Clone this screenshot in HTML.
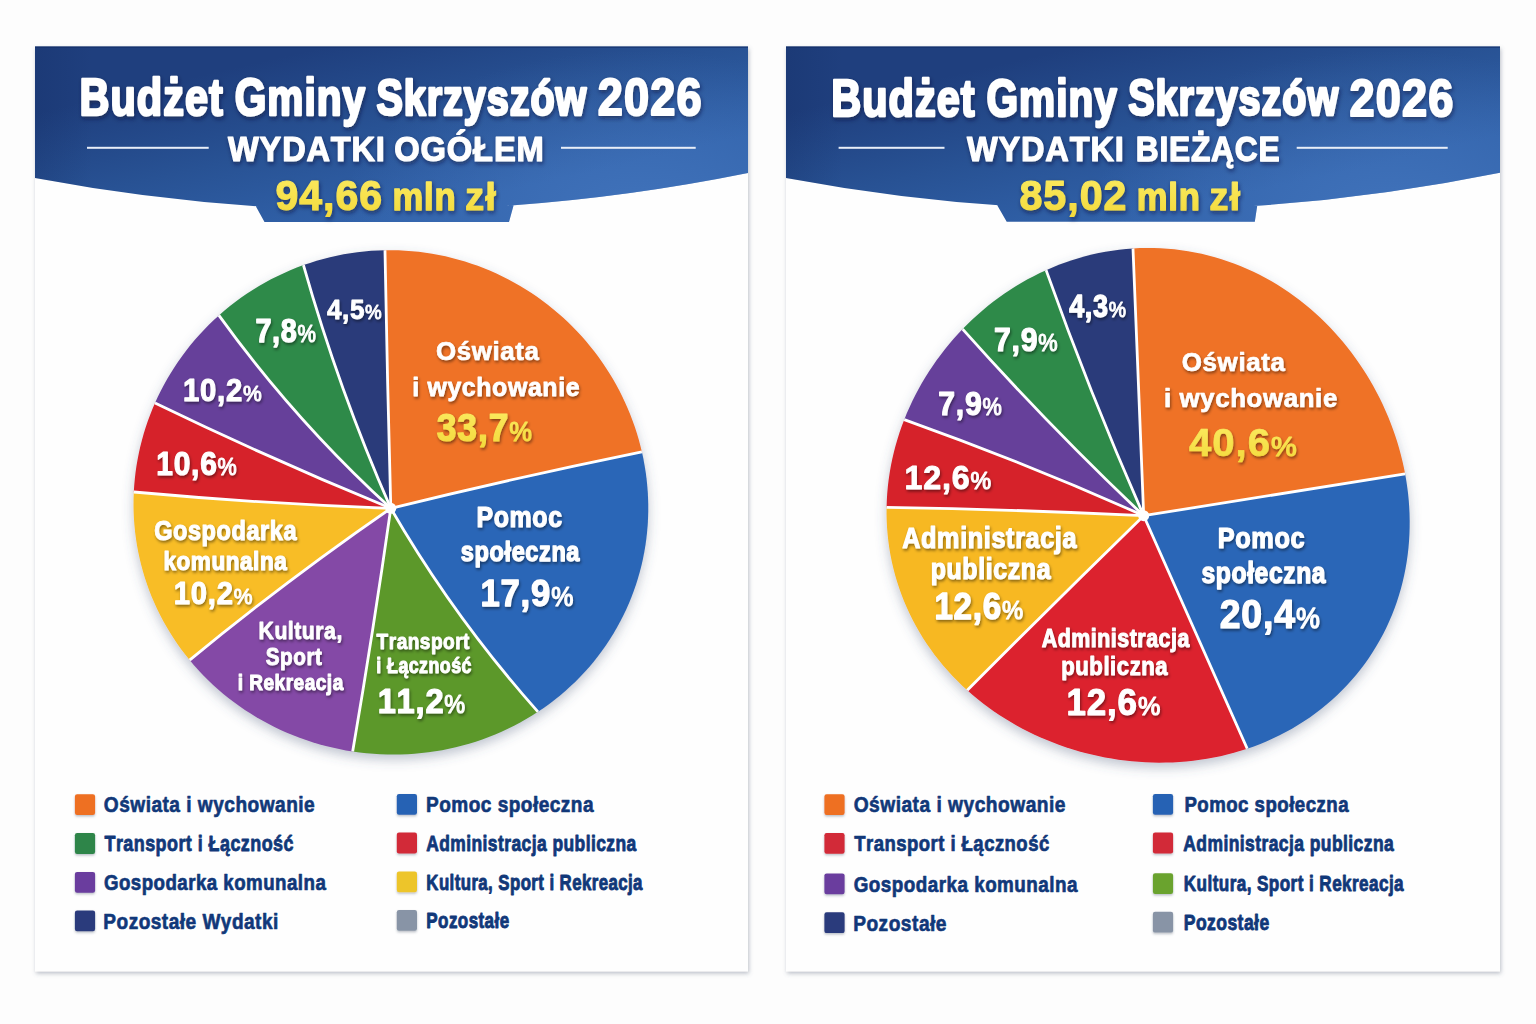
<!DOCTYPE html>
<html><head><meta charset="utf-8"><title>Budżet Gminy Skrzyszów 2026</title>
<style>
html,body{margin:0;padding:0;background:#fdfdfd;width:1536px;height:1024px;overflow:hidden}
svg{display:block}
text{font-family:"Liberation Sans",Arial,sans-serif;font-weight:700;font-kerning:none;white-space:pre}
</style></head><body>
<svg width="1536" height="1024" viewBox="0 0 1536 1024">
<defs>
<linearGradient id="hg0" gradientUnits="userSpaceOnUse" x1="330" y1="46" x2="370" y2="222">
<stop offset="0" stop-color="#1f3f7e"/>
<stop offset="0.5" stop-color="#285294"/>
<stop offset="1" stop-color="#3162aa"/>
</linearGradient>
<linearGradient id="hg1" gradientUnits="userSpaceOnUse" x1="1081" y1="46" x2="1121" y2="222">
<stop offset="0" stop-color="#1f3f7e"/>
<stop offset="0.5" stop-color="#285294"/>
<stop offset="1" stop-color="#3162aa"/>
</linearGradient>
<radialGradient id="hl0" gradientUnits="userSpaceOnUse" cx="640" cy="215" r="300" gradientTransform="translate(640 215) scale(1 0.55) translate(-640 -215)">
<stop offset="0" stop-color="#4d80c8" stop-opacity="0.55"/>
<stop offset="1" stop-color="#4d80c8" stop-opacity="0"/>
</radialGradient>
<radialGradient id="hl1" gradientUnits="userSpaceOnUse" cx="1391" cy="215" r="300" gradientTransform="translate(1391 215) scale(1 0.55) translate(-1391 -215)">
<stop offset="0" stop-color="#4d80c8" stop-opacity="0.55"/>
<stop offset="1" stop-color="#4d80c8" stop-opacity="0"/>
</radialGradient>
<linearGradient id="vg0" gradientUnits="userSpaceOnUse" x1="35" y1="0" x2="748" y2="0">
<stop offset="0" stop-color="#0c2050" stop-opacity="0.16"/>
<stop offset="0.08" stop-color="#0c2050" stop-opacity="0"/>
<stop offset="1" stop-color="#0c2050" stop-opacity="0"/>
</linearGradient>
<linearGradient id="vg1" gradientUnits="userSpaceOnUse" x1="786" y1="0" x2="1500" y2="0">
<stop offset="0" stop-color="#0c2050" stop-opacity="0.16"/>
<stop offset="0.08" stop-color="#0c2050" stop-opacity="0"/>
<stop offset="1" stop-color="#0c2050" stop-opacity="0"/>
</linearGradient>
<linearGradient id="yg" x1="0" y1="0" x2="0" y2="1">
<stop offset="0" stop-color="#FBEB62"/>
<stop offset="1" stop-color="#F3D93A"/>
</linearGradient>
<filter id="card" x="-5%" y="-5%" width="110%" height="110%">
<feDropShadow dx="1" dy="2" stdDeviation="2.2" flood-color="#6a7388" flood-opacity="0.45"/>
</filter>
<filter id="pshadow" x="-10%" y="-10%" width="120%" height="125%">
<feDropShadow dx="0" dy="5" stdDeviation="6" flood-color="#4a5a78" flood-opacity="0.35"/>
</filter>
<filter id="ts" x="-10%" y="-20%" width="120%" height="150%">
<feDropShadow dx="1" dy="2" stdDeviation="1.4" flood-color="#000" flood-opacity="0.45"/>
</filter>
<filter id="hs" x="-10%" y="-20%" width="120%" height="150%">
<feDropShadow dx="1" dy="2.5" stdDeviation="2" flood-color="#0a1838" flood-opacity="0.55"/>
</filter>
<filter id="ls" x="-10%" y="-20%" width="130%" height="150%">
<feDropShadow dx="0" dy="1.5" stdDeviation="1.2" flood-color="#3a4660" flood-opacity="0.35"/>
</filter>
</defs>

<rect x="35" y="46.5" width="713" height="925" fill="#fefefe" filter="url(#card)"/>
<rect x="786" y="46.5" width="714" height="925" fill="#fefefe" filter="url(#card)"/>
<path d="M35.0,46.5 H748.0 V173.0 Q391.5,245.0 35.0,178.0 Z M248.31,192.80 L517.37,191.60 L509.00,221.90 L264.50,221.90 Z" fill="url(#hg0)"/>
<path d="M35.0,46.5 H748.0 V173.0 Q391.5,245.0 35.0,178.0 Z M248.31,192.80 L517.37,191.60 L509.00,221.90 L264.50,221.90 Z" fill="url(#hl0)"/>
<path d="M35.0,46.5 H748.0 V173.0 Q391.5,245.0 35.0,178.0 Z M248.31,192.80 L517.37,191.60 L509.00,221.90 L264.50,221.90 Z" fill="url(#vg0)"/>
<rect x="35.0" y="46.5" width="713.0" height="1.3" fill="#132d66" opacity="0.7"/>
<path d="M786.0,46.5 H1500.0 V172.7 Q1143.0,245.0 786.0,178.0 Z M989.76,192.20 L1259.42,191.20 L1254.80,221.70 L1006.70,221.70 Z" fill="url(#hg1)"/>
<path d="M786.0,46.5 H1500.0 V172.7 Q1143.0,245.0 786.0,178.0 Z M989.76,192.20 L1259.42,191.20 L1254.80,221.70 L1006.70,221.70 Z" fill="url(#hl1)"/>
<path d="M786.0,46.5 H1500.0 V172.7 Q1143.0,245.0 786.0,178.0 Z M989.76,192.20 L1259.42,191.20 L1254.80,221.70 L1006.70,221.70 Z" fill="url(#vg1)"/>
<rect x="786.0" y="46.5" width="714.0" height="1.3" fill="#132d66" opacity="0.7"/>
<text x="79.47" y="115.16" font-size="51.02" textLength="144.42" lengthAdjust="spacingAndGlyphs" fill="#fff" stroke="#fff" stroke-width="2.47" stroke-linejoin="round" letter-spacing="1.28" filter="url(#hs)">Budżet</text>
<text x="234.73" y="115.11" font-size="50.88" textLength="131.41" lengthAdjust="spacingAndGlyphs" fill="#fff" stroke="#fff" stroke-width="2.57" stroke-linejoin="round" letter-spacing="1.27" filter="url(#hs)">Gminy</text>
<text x="376.42" y="115.05" font-size="50.70" textLength="210.93" lengthAdjust="spacingAndGlyphs" fill="#fff" stroke="#fff" stroke-width="2.69" stroke-linejoin="round" letter-spacing="1.27" filter="url(#hs)">Skrzyszów</text>
<text x="597.78" y="115.36" font-size="51.62" textLength="104.84" lengthAdjust="spacingAndGlyphs" fill="#fff" stroke="#fff" stroke-width="2.07" stroke-linejoin="round" letter-spacing="1.29" filter="url(#hs)">2026</text>
<text x="831.27" y="115.56" font-size="51.02" textLength="144.42" lengthAdjust="spacingAndGlyphs" fill="#fff" stroke="#fff" stroke-width="2.47" stroke-linejoin="round" letter-spacing="1.28" filter="url(#hs)">Budżet</text>
<text x="986.53" y="115.51" font-size="50.88" textLength="131.41" lengthAdjust="spacingAndGlyphs" fill="#fff" stroke="#fff" stroke-width="2.57" stroke-linejoin="round" letter-spacing="1.27" filter="url(#hs)">Gminy</text>
<text x="1128.22" y="115.45" font-size="50.70" textLength="210.93" lengthAdjust="spacingAndGlyphs" fill="#fff" stroke="#fff" stroke-width="2.69" stroke-linejoin="round" letter-spacing="1.27" filter="url(#hs)">Skrzyszów</text>
<text x="1349.58" y="115.76" font-size="51.62" textLength="104.84" lengthAdjust="spacingAndGlyphs" fill="#fff" stroke="#fff" stroke-width="2.07" stroke-linejoin="round" letter-spacing="1.29" filter="url(#hs)">2026</text>
<text x="228.06" y="161.22" font-size="35.21" textLength="157.65" lengthAdjust="spacingAndGlyphs" fill="#fff" stroke="#fff" stroke-width="1.17" stroke-linejoin="round" letter-spacing="0.88" filter="url(#hs)">WYDATKI</text>
<text x="394.34" y="161.23" font-size="35.23" textLength="150.29" lengthAdjust="spacingAndGlyphs" fill="#fff" stroke="#fff" stroke-width="1.15" stroke-linejoin="round" letter-spacing="0.88" filter="url(#hs)">OGÓŁEM</text>
<text x="966.96" y="161.22" font-size="35.21" textLength="157.65" lengthAdjust="spacingAndGlyphs" fill="#fff" stroke="#fff" stroke-width="1.17" stroke-linejoin="round" letter-spacing="0.88" filter="url(#hs)">WYDATKI</text>
<text x="1135.72" y="161.17" font-size="35.07" textLength="144.68" lengthAdjust="spacingAndGlyphs" fill="#fff" stroke="#fff" stroke-width="1.26" stroke-linejoin="round" letter-spacing="0.88" filter="url(#hs)">BIEŻĄCE</text>
<text x="275.43" y="209.95" font-size="42.00" textLength="107.62" lengthAdjust="spacingAndGlyphs" fill="url(#yg)" stroke="url(#yg)" stroke-width="1.10" stroke-linejoin="round" letter-spacing="1.05" filter="url(#hs)">94,66</text>
<text x="392.39" y="209.83" font-size="38.03" textLength="64.16" lengthAdjust="spacingAndGlyphs" fill="url(#yg)" stroke="url(#yg)" stroke-width="1.33" stroke-linejoin="round" letter-spacing="0.95" filter="url(#hs)">mln</text>
<text x="464.91" y="210.05" font-size="38.67" textLength="31.91" lengthAdjust="spacingAndGlyphs" fill="url(#yg)" stroke="url(#yg)" stroke-width="0.90" stroke-linejoin="round" letter-spacing="0.97" filter="url(#hs)">zł</text>
<text x="1019.44" y="210.16" font-size="42.03" textLength="108.09" lengthAdjust="spacingAndGlyphs" fill="url(#yg)" stroke="url(#yg)" stroke-width="1.08" stroke-linejoin="round" letter-spacing="1.05" filter="url(#hs)">85,02</text>
<text x="1136.69" y="210.03" font-size="38.03" textLength="64.16" lengthAdjust="spacingAndGlyphs" fill="url(#yg)" stroke="url(#yg)" stroke-width="1.33" stroke-linejoin="round" letter-spacing="0.95" filter="url(#hs)">mln</text>
<text x="1209.21" y="210.25" font-size="38.67" textLength="31.91" lengthAdjust="spacingAndGlyphs" fill="url(#yg)" stroke="url(#yg)" stroke-width="0.90" stroke-linejoin="round" letter-spacing="0.97" filter="url(#hs)">zł</text>
<rect x="87.0" y="146.8" width="121.7" height="2" fill="#e8eef8"/>
<rect x="561.0" y="146.8" width="134.7" height="2" fill="#e8eef8"/>
<rect x="838.6" y="146.8" width="105.9" height="2" fill="#e8eef8"/>
<rect x="1296.7" y="146.8" width="151.0" height="2" fill="#e8eef8"/>
<g filter="url(#pshadow)"><path d="M390.80,508.30 Q387.24,379.27 384.98,250.21 L391.76,250.18 L398.53,250.33 L405.30,250.66 L412.05,251.16 L418.79,251.85 L425.50,252.71 L432.19,253.75 L438.84,254.97 L445.45,256.36 L452.03,257.92 L458.55,259.66 L465.02,261.56 L471.44,263.63 L477.79,265.87 L484.08,268.27 L490.30,270.83 L496.44,273.56 L502.51,276.43 L508.49,279.46 L514.39,282.64 L520.19,285.97 L525.91,289.44 L531.53,293.06 L537.05,296.81 L542.46,300.70 L547.77,304.73 L552.97,308.88 L558.05,313.16 L563.03,317.57 L567.88,322.09 L572.61,326.73 L577.22,331.48 L581.71,336.35 L586.07,341.32 L590.29,346.40 L594.39,351.58 L598.35,356.85 L602.18,362.22 L605.86,367.68 L609.41,373.23 L612.81,378.86 L616.07,384.58 L619.18,390.37 L622.15,396.24 L624.96,402.17 L627.63,408.18 L630.14,414.25 L632.49,420.38 L634.69,426.57 L636.73,432.81 L638.60,439.10 L640.32,445.44 L641.87,451.83 Q515.78,477.60 390.80,508.30 Z" fill="#EF7226"/><path d="M390.80,508.30 Q515.78,477.60 641.87,451.83 L643.28,458.35 L644.52,464.91 L645.58,471.50 L646.47,478.12 L647.18,484.76 L647.72,491.43 L648.07,498.11 L648.25,504.80 L648.24,511.49 L648.06,518.19 L647.69,524.89 L647.14,531.58 L646.40,538.25 L645.49,544.91 L644.38,551.55 L643.10,558.16 L641.63,564.73 L639.97,571.27 L638.13,577.77 L636.11,584.22 L633.91,590.61 L631.53,596.95 L628.97,603.23 L626.23,609.43 L623.31,615.56 L620.22,621.62 L616.96,627.59 L613.52,633.47 L609.92,639.26 L606.16,644.95 L602.23,650.53 L598.14,656.01 L593.90,661.38 L589.50,666.63 L584.95,671.75 L580.26,676.76 L575.43,681.63 L570.46,686.37 L565.35,690.97 L560.12,695.44 L554.76,699.76 L549.28,703.93 L543.69,707.95 L537.98,711.82 Q454.01,617.57 390.80,508.30 Z" fill="#2A66B7"/><path d="M390.80,508.30 Q454.01,617.57 537.98,711.82 L532.16,715.55 L526.23,719.11 L520.21,722.51 L514.09,725.75 L507.89,728.83 L501.60,731.73 L495.24,734.47 L488.81,737.04 L482.31,739.44 L475.75,741.66 L469.13,743.71 L462.46,745.58 L455.74,747.28 L448.98,748.80 L442.18,750.15 L435.35,751.32 L428.50,752.31 L421.62,753.12 L414.72,753.76 L407.82,754.21 L400.90,754.49 L393.98,754.60 L387.07,754.52 L380.16,754.27 L373.26,753.84 L366.38,753.24 L359.51,752.46 L352.67,751.51 Q373.51,630.18 390.80,508.30 Z" fill="#5B982B"/><path d="M390.80,508.30 Q373.51,630.18 352.67,751.51 L345.89,750.38 L339.14,749.09 L332.42,747.62 L325.75,745.99 L319.13,744.19 L312.55,742.22 L306.04,740.08 L299.58,737.78 L293.19,735.31 L286.86,732.69 L280.61,729.90 L274.44,726.95 L268.35,723.85 L262.34,720.60 L256.43,717.19 L250.61,713.62 L244.89,709.91 L239.27,706.06 L233.76,702.06 L228.36,697.92 L223.08,693.64 L217.91,689.23 L212.87,684.68 L207.95,680.00 L203.17,675.20 L198.52,670.27 L194.00,665.22 L189.63,660.06 Q287.01,579.93 390.80,508.30 Z" fill="#8449A6"/><path d="M390.80,508.30 Q287.01,579.93 189.63,660.06 L185.40,654.78 L181.31,649.39 L177.38,643.90 L173.60,638.30 L169.97,632.61 L166.51,626.82 L163.21,620.95 L160.07,614.99 L157.10,608.95 L154.30,602.84 L151.67,596.66 L149.21,590.41 L146.93,584.10 L144.82,577.73 L142.89,571.31 L141.13,564.84 L139.56,558.34 L138.17,551.79 L136.96,545.21 L135.93,538.61 L135.08,531.98 L134.41,525.33 L133.92,518.67 L133.62,512.00 L133.50,505.33 L133.55,498.66 L133.79,491.99 Q262.07,503.71 390.80,508.30 Z" fill="#F8BD26"/><path d="M390.80,508.30 Q262.07,503.71 133.79,491.99 L134.20,485.44 L134.79,478.90 L135.55,472.37 L136.48,465.87 L137.58,459.40 L138.85,452.95 L140.30,446.55 L141.91,440.18 L143.68,433.85 L145.62,427.57 L147.73,421.34 L150.00,415.17 L152.42,409.06 L155.01,403.00 Q271.27,459.31 390.80,508.30 Z" fill="#D6202C"/><path d="M390.80,508.30 Q271.27,459.31 155.01,403.00 L157.84,396.83 L160.84,390.73 L164.00,384.71 L167.33,378.77 L170.81,372.92 L174.45,367.16 L178.24,361.49 L182.19,355.92 L186.28,350.45 L190.52,345.09 L194.91,339.84 L199.44,334.71 L204.11,329.69 L208.91,324.79 L213.85,320.02 L218.92,315.38 Q294.89,420.72 390.80,508.30 Z" fill="#663F9A"/><path d="M390.80,508.30 Q294.89,420.72 218.92,315.38 L224.23,310.77 L229.66,306.31 L235.22,301.99 L240.90,297.82 L246.70,293.81 L252.61,289.95 L258.63,286.25 L264.76,282.72 L270.99,279.35 L277.31,276.15 L283.72,273.13 L290.22,270.28 L296.81,267.61 L303.46,265.12 Q338.76,389.72 390.80,508.30 Z" fill="#2F8A4A"/><path d="M390.80,508.30 Q338.76,389.72 303.46,265.12 L310.01,262.88 L316.62,260.81 L323.29,258.92 L330.00,257.22 L336.77,255.69 L343.58,254.35 L350.42,253.19 L357.29,252.22 L364.19,251.44 L371.11,250.84 L378.04,250.43 L384.98,250.21 Q387.24,379.27 390.80,508.30 Z" fill="#2C3B7A"/></g>
<clipPath id="pc34"><path d="M648.20,502.00 L648.27,508.58 L648.16,515.16 L647.89,521.75 L647.43,528.32 L646.80,534.89 L645.99,541.44 L645.00,547.98 L643.83,554.49 L642.49,560.97 L640.97,567.42 L639.27,573.83 L637.40,580.20 L635.35,586.52 L633.12,592.78 L630.72,598.99 L628.15,605.14 L625.40,611.21 L622.49,617.22 L619.41,623.15 L616.16,628.99 L612.74,634.75 L609.17,640.42 L605.44,645.99 L601.55,651.46 L597.51,656.83 L593.31,662.09 L588.97,667.23 L584.49,672.26 L579.87,677.16 L575.10,681.95 L570.21,686.60 L565.19,691.12 L560.04,695.50 L554.78,699.74 L549.39,703.85 L543.90,707.81 L538.30,711.62 L532.59,715.28 L526.79,718.79 L520.89,722.14 L514.90,725.34 L508.83,728.37 L502.68,731.25 L496.45,733.97 L490.16,736.52 L483.79,738.91 L477.37,741.13 L470.89,743.18 L464.36,745.07 L457.79,746.78 L451.17,748.33 L444.52,749.71 L437.83,750.91 L431.11,751.95 L424.38,752.82 L417.62,753.51 L410.85,754.03 L404.07,754.39 L397.29,754.57 L390.50,754.58 L383.72,754.42 L376.95,754.09 L370.19,753.59 L363.44,752.93 L356.72,752.09 L350.03,751.09 L343.36,749.92 L336.73,748.59 L330.14,747.09 L323.59,745.42 L317.08,743.59 L310.63,741.61 L304.23,739.46 L297.90,737.15 L291.62,734.68 L285.42,732.06 L279.28,729.28 L273.23,726.35 L267.25,723.27 L261.36,720.04 L255.55,716.66 L249.84,713.13 L244.22,709.47 L238.70,705.66 L233.29,701.71 L227.99,697.62 L222.79,693.40 L217.72,689.05 L212.76,684.57 L207.92,679.97 L203.21,675.24 L198.63,670.40 L194.19,665.44 L189.88,660.36 L185.71,655.18 L181.68,649.89 L177.80,644.50 L174.06,639.01 L170.48,633.43 L167.05,627.75 L163.78,621.99 L160.66,616.15 L157.71,610.23 L154.92,604.24 L152.30,598.18 L149.84,592.05 L147.55,585.86 L145.42,579.62 L143.47,573.33 L141.69,566.98 L140.09,560.60 L138.66,554.18 L137.40,547.73 L136.31,541.24 L135.41,534.74 L134.67,528.21 L134.12,521.67 L133.74,515.12 L133.53,508.56 L133.50,502.00 L133.65,495.44 L133.97,488.89 L134.46,482.36 L135.12,475.84 L135.96,469.34 L136.97,462.86 L138.15,456.41 L139.50,449.99 L141.02,443.62 L142.70,437.28 L144.55,430.98 L146.56,424.74 L148.73,418.55 L151.07,412.41 L153.56,406.33 L156.21,400.32 L159.02,394.38 L161.98,388.50 L165.10,382.71 L168.36,376.99 L171.78,371.35 L175.34,365.80 L179.04,360.34 L182.88,354.97 L186.87,349.69 L190.99,344.52 L195.25,339.45 L199.64,334.49 L204.16,329.63 L208.81,324.90 L213.58,320.27 L218.48,315.77 L223.49,311.39 L228.62,307.14 L233.86,303.02 L239.22,299.03 L244.68,295.18 L250.24,291.47 L255.90,287.90 L261.66,284.48 L267.51,281.20 L273.45,278.08 L279.48,275.11 L285.58,272.29 L291.76,269.64 L298.01,267.15 L304.33,264.81 L310.72,262.65 L317.16,260.65 L323.65,258.83 L330.20,257.17 L336.79,255.69 L343.42,254.38 L350.08,253.24 L356.77,252.29 L363.49,251.51 L370.23,250.91 L376.98,250.48 L383.74,250.24 L390.50,250.17 L397.26,250.29 L404.02,250.58 L410.76,251.05 L417.49,251.70 L424.19,252.53 L430.87,253.54 L437.52,254.71 L444.13,256.07 L450.70,257.59 L457.22,259.29 L463.69,261.16 L470.10,263.19 L476.46,265.39 L482.75,267.75 L488.97,270.27 L495.12,272.95 L501.19,275.79 L507.18,278.78 L513.09,281.92 L518.90,285.21 L524.63,288.65 L530.26,292.22 L535.79,295.94 L541.22,299.79 L546.54,303.78 L551.75,307.89 L556.86,312.14 L561.85,316.50 L566.72,320.99 L571.48,325.59 L576.11,330.31 L580.62,335.14 L585.00,340.08 L589.25,345.12 L593.37,350.26 L597.36,355.50 L601.21,360.84 L604.93,366.27 L608.50,371.78 L611.94,377.38 L615.23,383.06 L618.37,388.82 L621.37,394.66 L624.22,400.57 L626.92,406.54 L629.47,412.58 L631.86,418.69 L634.10,424.85 L636.17,431.06 L638.09,437.33 L639.85,443.65 L641.45,450.01 L642.88,456.40 L644.15,462.84 L645.25,469.31 L646.18,475.81 L646.94,482.33 L647.53,488.87 L647.95,495.43 Z"/></clipPath>
<g clip-path="url(#pc34)" stroke="#fff" stroke-width="2.8" stroke-linecap="round" fill="none"><path d="M384.95,248.21 L384.98,250.21 Q387.24,379.27 390.80,508.30"/><path d="M643.83,451.42 L641.87,451.83 Q515.78,477.60 390.80,508.30"/><path d="M539.31,713.32 L537.98,711.82 Q454.01,617.57 390.80,508.30"/><path d="M352.34,753.48 L352.67,751.51 Q373.51,630.18 390.80,508.30"/><path d="M188.08,661.33 L189.63,660.06 Q287.01,579.93 390.80,508.30"/><path d="M131.80,491.81 L133.79,491.99 Q262.07,503.71 390.80,508.30"/><path d="M153.21,402.13 L155.01,403.00 Q271.27,459.31 390.80,508.30"/><path d="M217.75,313.75 L218.92,315.38 Q294.89,420.72 390.80,508.30"/><path d="M302.92,263.20 L303.46,265.12 Q338.76,389.72 390.80,508.30"/></g>
<circle cx="390.8" cy="508.3" r="5.5" fill="#fff"/>
<g filter="url(#pshadow)"><path d="M1143.70,515.70 Q1138.66,382.05 1132.99,248.43 L1139.89,248.09 L1146.80,247.95 L1153.71,248.00 L1160.62,248.25 L1167.51,248.69 L1174.39,249.33 L1181.25,250.17 L1188.08,251.20 L1194.87,252.43 L1201.63,253.84 L1208.33,255.45 L1214.98,257.25 L1221.58,259.23 L1228.11,261.39 L1234.57,263.73 L1240.96,266.25 L1247.26,268.94 L1253.49,271.80 L1259.63,274.82 L1265.67,278.01 L1271.62,281.36 L1277.47,284.85 L1283.22,288.50 L1288.86,292.29 L1294.39,296.22 L1299.82,300.29 L1305.12,304.49 L1310.32,308.82 L1315.39,313.27 L1320.35,317.83 L1325.18,322.52 L1329.90,327.31 L1334.49,332.21 L1338.95,337.21 L1343.29,342.32 L1347.51,347.52 L1351.60,352.81 L1355.56,358.19 L1359.39,363.66 L1363.09,369.21 L1366.66,374.84 L1370.10,380.54 L1373.40,386.33 L1376.58,392.18 L1379.62,398.11 L1382.53,404.10 L1385.30,410.16 L1387.93,416.28 L1390.42,422.47 L1392.77,428.71 L1394.98,435.01 L1397.05,441.36 L1398.96,447.77 L1400.73,454.22 L1402.35,460.72 L1403.82,467.27 L1405.12,473.86 Q1274.41,494.78 1143.70,515.70 Z" fill="#EF7226"/><path d="M1143.70,515.70 Q1274.41,494.78 1405.12,473.86 L1406.27,480.49 L1407.26,487.16 L1408.09,493.86 L1408.74,500.59 L1409.23,507.34 L1409.54,514.11 L1409.68,520.91 L1409.64,527.71 L1409.42,534.52 L1409.02,541.34 L1408.43,548.15 L1407.65,554.96 L1406.69,561.76 L1405.53,568.53 L1404.18,575.28 L1402.63,582.00 L1400.89,588.69 L1398.95,595.33 L1396.82,601.92 L1394.49,608.46 L1391.96,614.93 L1389.24,621.33 L1386.32,627.66 L1383.21,633.90 L1379.91,640.05 L1376.42,646.11 L1372.74,652.06 L1368.88,657.91 L1364.84,663.63 L1360.63,669.24 L1356.24,674.72 L1351.68,680.06 L1346.96,685.27 L1342.08,690.33 L1337.04,695.24 L1331.86,700.00 L1326.54,704.60 L1321.08,709.04 L1315.49,713.31 L1309.78,717.42 L1303.95,721.35 L1298.00,725.11 L1291.96,728.69 L1285.81,732.09 L1279.58,735.32 L1273.26,738.36 L1266.86,741.22 L1260.39,743.90 L1253.86,746.40 L1247.26,748.71 Q1195.65,632.13 1143.70,515.70 Z" fill="#2A66B7"/><path d="M1143.70,515.70 Q1195.65,632.13 1247.26,748.71 L1240.64,750.84 L1233.97,752.79 L1227.26,754.55 L1220.51,756.14 L1213.74,757.55 L1206.94,758.79 L1200.12,759.85 L1193.29,760.74 L1186.44,761.46 L1179.59,762.01 L1172.74,762.39 L1165.89,762.61 L1159.05,762.66 L1152.22,762.56 L1145.40,762.29 L1138.60,761.86 L1131.82,761.28 L1125.06,760.55 L1118.33,759.66 L1111.63,758.62 L1104.96,757.42 L1098.33,756.08 L1091.73,754.59 L1085.17,752.96 L1078.66,751.17 L1072.19,749.25 L1065.77,747.17 L1059.41,744.96 L1053.09,742.60 L1046.84,740.09 L1040.64,737.45 L1034.51,734.66 L1028.45,731.73 L1022.46,728.66 L1016.54,725.45 L1010.70,722.10 L1004.94,718.61 L999.27,714.97 L993.68,711.21 L988.19,707.30 L982.80,703.26 L977.51,699.08 L972.33,694.77 L967.26,690.32 Q1054.82,602.35 1143.70,515.70 Z" fill="#DC202D"/><path d="M1143.70,515.70 Q1054.82,602.35 967.26,690.32 L962.21,685.65 L957.28,680.85 L952.48,675.92 L947.82,670.85 L943.30,665.66 L938.92,660.35 L934.69,654.91 L930.61,649.36 L926.70,643.70 L922.94,637.92 L919.36,632.04 L915.94,626.07 L912.70,619.99 L909.63,613.83 L906.75,607.57 L904.05,601.24 L901.53,594.84 L899.21,588.36 L897.08,581.82 L895.14,575.23 L893.39,568.58 L891.85,561.88 L890.49,555.15 L889.34,548.38 L888.38,541.59 L887.63,534.77 L887.07,527.94 L886.70,521.09 L886.53,514.25 L886.56,507.40 Q1015.20,509.39 1143.70,515.70 Z" fill="#F7B822"/><path d="M1143.70,515.70 Q1015.20,509.39 886.56,507.40 L886.79,500.46 L887.21,493.53 L887.83,486.62 L888.64,479.74 L889.64,472.88 L890.83,466.06 L892.21,459.27 L893.78,452.53 L895.52,445.84 L897.44,439.20 L899.54,432.61 L901.81,426.09 L904.25,419.63 Q1025.81,463.08 1143.70,515.70 Z" fill="#D6202C"/><path d="M1143.70,515.70 Q1025.81,463.08 904.25,419.63 L906.80,413.36 L909.52,407.15 L912.38,401.02 L915.40,394.97 L918.57,388.99 L921.88,383.09 L925.34,377.27 L928.95,371.54 L932.69,365.89 L936.57,360.34 L940.59,354.88 L944.74,349.52 L949.02,344.26 L953.43,339.09 L957.97,334.04 L962.63,329.09 Q1049.20,426.25 1143.70,515.70 Z" fill="#663F9A"/><path d="M1143.70,515.70 Q1049.20,426.25 962.63,329.09 L967.42,324.26 L972.32,319.54 L977.35,314.94 L982.49,310.46 L987.74,306.10 L993.11,301.87 L998.59,297.77 L1004.18,293.81 L1009.88,289.98 L1015.67,286.30 L1021.57,282.76 L1027.56,279.37 L1033.65,276.14 L1039.83,273.06 L1046.09,270.14 Q1090.40,394.71 1143.70,515.70 Z" fill="#2F8A4A"/><path d="M1143.70,515.70 Q1090.40,394.71 1046.09,270.14 L1052.41,267.40 L1058.81,264.83 L1065.28,262.43 L1071.82,260.20 L1078.43,258.14 L1085.09,256.27 L1091.82,254.58 L1098.59,253.08 L1105.40,251.76 L1112.26,250.64 L1119.14,249.71 L1126.06,248.97 L1132.99,248.43 Q1138.66,382.05 1143.70,515.70 Z" fill="#2C3B7A"/></g>
<clipPath id="pc38"><path d="M1409.19,506.60 L1409.52,513.35 L1409.68,520.11 L1409.66,526.89 L1409.46,533.68 L1409.08,540.47 L1408.52,547.26 L1407.77,554.04 L1406.83,560.81 L1405.71,567.57 L1404.39,574.30 L1402.88,581.00 L1401.17,587.66 L1399.27,594.29 L1397.18,600.86 L1394.89,607.38 L1392.40,613.84 L1389.72,620.23 L1386.85,626.55 L1383.79,632.78 L1380.53,638.93 L1377.09,644.98 L1373.46,650.93 L1369.65,656.78 L1365.66,662.51 L1361.49,668.12 L1357.15,673.60 L1352.65,678.96 L1347.98,684.17 L1343.15,689.24 L1338.17,694.17 L1333.04,698.95 L1327.76,703.57 L1322.36,708.03 L1316.82,712.32 L1311.15,716.45 L1305.37,720.41 L1299.48,724.20 L1293.48,727.81 L1287.38,731.25 L1281.19,734.50 L1274.92,737.58 L1268.56,740.48 L1262.13,743.20 L1255.64,745.74 L1249.09,748.09 L1242.48,750.27 L1235.82,752.26 L1229.12,754.08 L1222.39,755.72 L1215.62,757.18 L1208.83,758.46 L1202.02,759.57 L1195.19,760.51 L1188.35,761.28 L1181.50,761.87 L1174.65,762.30 L1167.80,762.56 L1160.96,762.66 L1154.12,762.60 L1147.30,762.38 L1140.49,762.00 L1133.71,761.46 L1126.95,760.77 L1120.21,759.92 L1113.50,758.92 L1106.82,757.77 L1100.18,756.47 L1093.57,755.02 L1087.00,753.43 L1080.48,751.69 L1074.00,749.80 L1067.56,747.77 L1061.18,745.59 L1054.85,743.27 L1048.58,740.81 L1042.37,738.20 L1036.22,735.46 L1030.14,732.57 L1024.13,729.53 L1018.19,726.36 L1012.33,723.05 L1006.55,719.60 L1000.85,716.01 L995.24,712.28 L989.73,708.41 L984.31,704.41 L978.99,700.27 L973.78,695.99 L968.67,691.58 L963.69,687.04 L958.82,682.38 L954.07,677.58 L949.45,672.66 L944.97,667.62 L940.62,662.45 L936.42,657.17 L932.36,651.78 L928.45,646.27 L924.69,640.66 L921.10,634.94 L917.66,629.13 L914.39,623.22 L911.29,617.23 L908.37,611.14 L905.61,604.98 L903.04,598.74 L900.65,592.44 L898.44,586.06 L896.41,579.63 L894.57,573.15 L892.92,566.62 L891.46,560.04 L890.18,553.43 L889.10,546.79 L888.20,540.12 L887.50,533.43 L886.99,526.73 L886.66,520.02 L886.53,513.31 L886.58,506.60 L886.81,499.90 L887.23,493.21 L887.84,486.53 L888.62,479.88 L889.58,473.26 L890.72,466.66 L892.03,460.11 L893.52,453.59 L895.17,447.11 L896.99,440.69 L898.98,434.31 L901.13,427.99 L903.43,421.73 L905.90,415.53 L908.51,409.40 L911.28,403.33 L914.20,397.33 L917.26,391.41 L920.47,385.57 L923.82,379.80 L927.30,374.11 L930.93,368.51 L934.69,363.00 L938.58,357.57 L942.60,352.24 L946.75,347.01 L951.03,341.87 L955.44,336.83 L959.96,331.89 L964.61,327.06 L969.38,322.34 L974.26,317.74 L979.26,313.24 L984.37,308.87 L989.59,304.62 L994.92,300.49 L1000.36,296.49 L1005.90,292.63 L1011.55,288.90 L1017.29,285.31 L1023.13,281.86 L1029.06,278.56 L1035.09,275.40 L1041.20,272.40 L1047.39,269.56 L1053.66,266.88 L1060.01,264.37 L1066.43,262.02 L1072.92,259.84 L1079.47,257.84 L1086.08,256.01 L1092.74,254.36 L1099.45,252.90 L1106.21,251.62 L1113.00,250.53 L1119.82,249.63 L1126.66,248.92 L1133.53,248.40 L1140.41,248.07 L1147.30,247.94 L1154.19,248.01 L1161.08,248.27 L1167.95,248.73 L1174.81,249.38 L1181.65,250.22 L1188.45,251.26 L1195.22,252.50 L1201.95,253.92 L1208.64,255.53 L1215.27,257.33 L1221.84,259.31 L1228.35,261.47 L1234.79,263.81 L1241.15,266.33 L1247.44,269.02 L1253.64,271.87 L1259.76,274.89 L1265.79,278.07 L1271.72,281.41 L1277.55,284.90 L1283.28,288.54 L1288.90,292.32 L1294.42,296.24 L1299.82,300.30 L1305.11,304.48 L1310.29,308.79 L1315.35,313.23 L1320.30,317.78 L1325.12,322.45 L1329.82,327.23 L1334.40,332.11 L1338.85,337.10 L1343.19,342.19 L1347.39,347.37 L1351.47,352.64 L1355.42,358.00 L1359.24,363.45 L1362.94,368.98 L1366.51,374.59 L1369.94,380.28 L1373.25,386.04 L1376.42,391.87 L1379.46,397.78 L1382.36,403.75 L1385.13,409.79 L1387.76,415.89 L1390.26,422.05 L1392.61,428.27 L1394.83,434.55 L1396.89,440.88 L1398.82,447.26 L1400.59,453.69 L1402.22,460.17 L1403.69,466.69 L1405.01,473.26 L1406.17,479.86 L1407.17,486.50 L1408.01,493.17 L1408.68,499.87 Z"/></clipPath>
<g clip-path="url(#pc38)" stroke="#fff" stroke-width="2.8" stroke-linecap="round" fill="none"><path d="M1132.91,246.43 L1132.99,248.43 Q1138.66,382.05 1143.70,515.70"/><path d="M1407.10,473.54 L1405.12,473.86 Q1274.41,494.78 1143.70,515.70"/><path d="M1248.07,750.54 L1247.26,748.71 Q1195.65,632.13 1143.70,515.70"/><path d="M965.85,691.74 L967.26,690.32 Q1054.82,602.35 1143.70,515.70"/><path d="M884.56,507.37 L886.56,507.40 Q1015.20,509.39 1143.70,515.70"/><path d="M902.37,418.95 L904.25,419.63 Q1025.81,463.08 1143.70,515.70"/><path d="M961.30,327.60 L962.63,329.09 Q1049.20,426.25 1143.70,515.70"/><path d="M1045.42,268.26 L1046.09,270.14 Q1090.40,394.71 1143.70,515.70"/></g>
<circle cx="1143.7" cy="515.7" r="5.5" fill="#fff"/>
<text x="435.88" y="359.97" font-size="26.35" textLength="103.67" lengthAdjust="spacingAndGlyphs" fill="#fff" stroke="#fff" stroke-width="0.67" stroke-linejoin="round" letter-spacing="0.66" filter="url(#ts)">Oświata</text>
<text x="412.36" y="396.21" font-size="26.18" textLength="167.82" lengthAdjust="spacingAndGlyphs" fill="#fff" stroke="#fff" stroke-width="0.78" stroke-linejoin="round" letter-spacing="0.65" filter="url(#ts)">i wychowanie</text>
<text x="436.70" y="441.09" font-size="38.04" textLength="96.14" lengthAdjust="spacingAndGlyphs" fill="url(#yg)" stroke="url(#yg)" stroke-width="1.22" stroke-linejoin="round" letter-spacing="0.95" filter="url(#ts)">33,7<tspan font-size="27.39" font-weight="400" stroke-width="1.23">%</tspan></text>
<text x="476.43" y="526.91" font-size="28.79" textLength="86.23" lengthAdjust="spacingAndGlyphs" fill="#fff" stroke="#fff" stroke-width="1.19" stroke-linejoin="round" letter-spacing="0.72" filter="url(#ts)">Pomoc</text>
<text x="460.85" y="561.03" font-size="28.56" textLength="119.22" lengthAdjust="spacingAndGlyphs" fill="#fff" stroke="#fff" stroke-width="1.34" stroke-linejoin="round" letter-spacing="0.71" filter="url(#ts)">społeczna</text>
<text x="480.38" y="606.15" font-size="37.78" textLength="93.79" lengthAdjust="spacingAndGlyphs" fill="#fff" stroke="#fff" stroke-width="1.30" stroke-linejoin="round" letter-spacing="0.94" filter="url(#ts)">17,9<tspan font-size="27.20" font-weight="400" stroke-width="1.22">%</tspan></text>
<text x="376.62" y="648.77" font-size="21.71" textLength="93.26" lengthAdjust="spacingAndGlyphs" fill="#fff" stroke="#fff" stroke-width="0.86" stroke-linejoin="round" letter-spacing="0.54" filter="url(#ts)">Transport</text>
<text x="376.26" y="673.30" font-size="21.50" textLength="95.61" lengthAdjust="spacingAndGlyphs" fill="#fff" stroke="#fff" stroke-width="0.99" stroke-linejoin="round" letter-spacing="0.54" filter="url(#ts)">i Łączność</text>
<text x="377.64" y="712.81" font-size="35.34" textLength="88.40" lengthAdjust="spacingAndGlyphs" fill="#fff" stroke="#fff" stroke-width="1.18" stroke-linejoin="round" letter-spacing="0.88" filter="url(#ts)">11,2<tspan font-size="25.44" font-weight="400" stroke-width="1.14">%</tspan></text>
<text x="258.58" y="639.20" font-size="23.11" textLength="84.27" lengthAdjust="spacingAndGlyphs" fill="#fff" stroke="#fff" stroke-width="0.79" stroke-linejoin="round" letter-spacing="0.58" filter="url(#ts)">Kultura,</text>
<text x="265.83" y="665.47" font-size="23.03" textLength="56.51" lengthAdjust="spacingAndGlyphs" fill="#fff" stroke="#fff" stroke-width="0.85" stroke-linejoin="round" letter-spacing="0.58" filter="url(#ts)">Sport</text>
<text x="237.69" y="689.99" font-size="22.77" textLength="106.05" lengthAdjust="spacingAndGlyphs" fill="#fff" stroke="#fff" stroke-width="1.02" stroke-linejoin="round" letter-spacing="0.57" filter="url(#ts)">i Rekreacja</text>
<text x="154.17" y="539.57" font-size="26.78" textLength="142.93" lengthAdjust="spacingAndGlyphs" fill="#fff" stroke="#fff" stroke-width="1.06" stroke-linejoin="round" letter-spacing="0.67" filter="url(#ts)">Gospodarka</text>
<text x="163.42" y="569.81" font-size="26.62" textLength="123.91" lengthAdjust="spacingAndGlyphs" fill="#fff" stroke="#fff" stroke-width="1.17" stroke-linejoin="round" letter-spacing="0.67" filter="url(#ts)">komunalna</text>
<text x="173.86" y="604.10" font-size="31.25" textLength="79.23" lengthAdjust="spacingAndGlyphs" fill="#fff" stroke="#fff" stroke-width="0.99" stroke-linejoin="round" letter-spacing="0.78" filter="url(#ts)">10,2<tspan font-size="22.50" font-weight="400" stroke-width="1.01">%</tspan></text>
<text x="156.27" y="475.15" font-size="32.55" textLength="81.20" lengthAdjust="spacingAndGlyphs" fill="#fff" stroke="#fff" stroke-width="1.10" stroke-linejoin="round" letter-spacing="0.81" filter="url(#ts)">10,6<tspan font-size="23.44" font-weight="400" stroke-width="1.05">%</tspan></text>
<text x="183.00" y="401.26" font-size="31.86" textLength="79.45" lengthAdjust="spacingAndGlyphs" fill="#fff" stroke="#fff" stroke-width="1.08" stroke-linejoin="round" letter-spacing="0.80" filter="url(#ts)">10,2<tspan font-size="22.94" font-weight="400" stroke-width="1.03">%</tspan></text>
<text x="255.39" y="342.38" font-size="32.48" textLength="61.35" lengthAdjust="spacingAndGlyphs" fill="#fff" stroke="#fff" stroke-width="1.25" stroke-linejoin="round" letter-spacing="0.81" filter="url(#ts)">7,8<tspan font-size="23.39" font-weight="400" stroke-width="1.05">%</tspan></text>
<text x="326.93" y="319.18" font-size="27.56" textLength="55.50" lengthAdjust="spacingAndGlyphs" fill="#fff" stroke="#fff" stroke-width="0.83" stroke-linejoin="round" letter-spacing="0.69" filter="url(#ts)">4,5<tspan font-size="19.84" font-weight="400" stroke-width="0.89">%</tspan></text>
<text x="1181.77" y="370.67" font-size="26.35" textLength="103.88" lengthAdjust="spacingAndGlyphs" fill="#fff" stroke="#fff" stroke-width="0.66" stroke-linejoin="round" letter-spacing="0.66" filter="url(#ts)">Oświata</text>
<text x="1163.94" y="406.96" font-size="26.33" textLength="173.94" lengthAdjust="spacingAndGlyphs" fill="#fff" stroke="#fff" stroke-width="0.68" stroke-linejoin="round" letter-spacing="0.66" filter="url(#ts)">i wychowanie</text>
<text x="1188.90" y="456.39" font-size="38.34" textLength="108.95" lengthAdjust="spacingAndGlyphs" fill="url(#yg)" stroke="url(#yg)" stroke-width="0.62" stroke-linejoin="round" letter-spacing="0.96" filter="url(#ts)">40,6<tspan font-size="27.60" font-weight="400" stroke-width="1.24">%</tspan></text>
<text x="1217.73" y="547.68" font-size="29.44" textLength="87.52" lengthAdjust="spacingAndGlyphs" fill="#fff" stroke="#fff" stroke-width="1.24" stroke-linejoin="round" letter-spacing="0.74" filter="url(#ts)">Pomoc</text>
<text x="1201.50" y="582.84" font-size="29.33" textLength="124.70" lengthAdjust="spacingAndGlyphs" fill="#fff" stroke="#fff" stroke-width="1.31" stroke-linejoin="round" letter-spacing="0.73" filter="url(#ts)">społeczna</text>
<text x="1219.63" y="628.28" font-size="39.75" textLength="101.19" lengthAdjust="spacingAndGlyphs" fill="#fff" stroke="#fff" stroke-width="1.24" stroke-linejoin="round" letter-spacing="0.99" filter="url(#ts)">20,4<tspan font-size="28.62" font-weight="400" stroke-width="1.29">%</tspan></text>
<text x="902.27" y="547.70" font-size="29.06" textLength="174.89" lengthAdjust="spacingAndGlyphs" fill="#fff" stroke="#fff" stroke-width="1.19" stroke-linejoin="round" letter-spacing="0.73" filter="url(#ts)">Administracja</text>
<text x="930.68" y="579.09" font-size="29.02" textLength="120.47" lengthAdjust="spacingAndGlyphs" fill="#fff" stroke="#fff" stroke-width="1.22" stroke-linejoin="round" letter-spacing="0.73" filter="url(#ts)">publiczna</text>
<text x="934.40" y="618.72" font-size="36.83" textLength="89.67" lengthAdjust="spacingAndGlyphs" fill="#fff" stroke="#fff" stroke-width="1.35" stroke-linejoin="round" letter-spacing="0.92" filter="url(#ts)">12,6<tspan font-size="26.52" font-weight="400" stroke-width="1.19">%</tspan></text>
<text x="1041.70" y="646.97" font-size="24.90" textLength="148.16" lengthAdjust="spacingAndGlyphs" fill="#fff" stroke="#fff" stroke-width="1.05" stroke-linejoin="round" letter-spacing="0.62" filter="url(#ts)">Administracja</text>
<text x="1061.23" y="675.12" font-size="25.03" textLength="106.99" lengthAdjust="spacingAndGlyphs" fill="#fff" stroke="#fff" stroke-width="0.97" stroke-linejoin="round" letter-spacing="0.63" filter="url(#ts)">publiczna</text>
<text x="1066.39" y="715.01" font-size="36.07" textLength="94.75" lengthAdjust="spacingAndGlyphs" fill="#fff" stroke="#fff" stroke-width="0.98" stroke-linejoin="round" letter-spacing="0.90" filter="url(#ts)">12,6<tspan font-size="25.97" font-weight="400" stroke-width="1.17">%</tspan></text>
<text x="904.50" y="488.97" font-size="33.04" textLength="87.49" lengthAdjust="spacingAndGlyphs" fill="#fff" stroke="#fff" stroke-width="0.86" stroke-linejoin="round" letter-spacing="0.83" filter="url(#ts)">12,6<tspan font-size="23.79" font-weight="400" stroke-width="1.07">%</tspan></text>
<text x="938.26" y="414.75" font-size="32.70" textLength="64.22" lengthAdjust="spacingAndGlyphs" fill="#fff" stroke="#fff" stroke-width="1.10" stroke-linejoin="round" letter-spacing="0.82" filter="url(#ts)">7,9<tspan font-size="23.54" font-weight="400" stroke-width="1.06">%</tspan></text>
<text x="994.06" y="351.44" font-size="32.83" textLength="64.31" lengthAdjust="spacingAndGlyphs" fill="#fff" stroke="#fff" stroke-width="1.11" stroke-linejoin="round" letter-spacing="0.82" filter="url(#ts)">7,9<tspan font-size="23.63" font-weight="400" stroke-width="1.06">%</tspan></text>
<text x="1069.13" y="317.46" font-size="31.13" textLength="57.51" lengthAdjust="spacingAndGlyphs" fill="#fff" stroke="#fff" stroke-width="1.28" stroke-linejoin="round" letter-spacing="0.78" filter="url(#ts)">4,3<tspan font-size="22.41" font-weight="400" stroke-width="1.01">%</tspan></text>
<rect x="74.9" y="794.2" width="20.2" height="20.8" rx="2.2" fill="#EE6F22" filter="url(#ls)"/>
<text x="103.85" y="812.46" font-size="22.71" textLength="211.34" lengthAdjust="spacingAndGlyphs" fill="#113879" stroke="#113879" stroke-width="0.67" stroke-linejoin="round" letter-spacing="0.57">Oświata i wychowanie</text>
<rect x="74.9" y="833.1" width="20.2" height="20.8" rx="2.2" fill="#2F8548" filter="url(#ls)"/>
<text x="104.50" y="851.30" font-size="22.52" textLength="189.47" lengthAdjust="spacingAndGlyphs" fill="#113879" stroke="#113879" stroke-width="0.80" stroke-linejoin="round" letter-spacing="0.56">Transport i Łączność</text>
<rect x="74.9" y="871.9" width="20.2" height="20.8" rx="2.2" fill="#6A3E9E" filter="url(#ls)"/>
<text x="103.89" y="890.14" font-size="22.64" textLength="222.39" lengthAdjust="spacingAndGlyphs" fill="#113879" stroke="#113879" stroke-width="0.72" stroke-linejoin="round" letter-spacing="0.57">Gospodarka komunalna</text>
<rect x="74.9" y="910.5" width="20.2" height="20.8" rx="2.2" fill="#2B3A7C" filter="url(#ls)"/>
<text x="103.37" y="928.76" font-size="22.70" textLength="175.42" lengthAdjust="spacingAndGlyphs" fill="#113879" stroke="#113879" stroke-width="0.68" stroke-linejoin="round" letter-spacing="0.57">Pozostałe Wydatki</text>
<rect x="396.8" y="794.0" width="20.2" height="20.8" rx="2.2" fill="#2862B4" filter="url(#ls)"/>
<text x="426.07" y="812.26" font-size="22.70" textLength="167.94" lengthAdjust="spacingAndGlyphs" fill="#113879" stroke="#113879" stroke-width="0.68" stroke-linejoin="round" letter-spacing="0.57">Pomoc społeczna</text>
<rect x="396.8" y="832.6" width="20.2" height="20.8" rx="2.2" fill="#D22A37" filter="url(#ls)"/>
<text x="426.20" y="850.77" font-size="22.43" textLength="210.49" lengthAdjust="spacingAndGlyphs" fill="#113879" stroke="#113879" stroke-width="0.86" stroke-linejoin="round" letter-spacing="0.56">Administracja publiczna</text>
<rect x="396.8" y="871.4" width="20.2" height="20.8" rx="2.2" fill="#EDC52A" filter="url(#ls)"/>
<text x="426.34" y="889.53" font-size="22.33" textLength="216.50" lengthAdjust="spacingAndGlyphs" fill="#113879" stroke="#113879" stroke-width="0.93" stroke-linejoin="round" letter-spacing="0.56">Kultura, Sport i Rekreacja</text>
<rect x="396.8" y="910.0" width="20.2" height="20.8" rx="2.2" fill="#8894A6" filter="url(#ls)"/>
<text x="426.32" y="928.15" font-size="22.36" textLength="83.23" lengthAdjust="spacingAndGlyphs" fill="#113879" stroke="#113879" stroke-width="0.91" stroke-linejoin="round" letter-spacing="0.56">Pozostałe</text>
<rect x="824.4" y="794.2" width="20.2" height="20.8" rx="2.2" fill="#EE6F22" filter="url(#ls)"/>
<text x="853.65" y="812.47" font-size="22.72" textLength="212.36" lengthAdjust="spacingAndGlyphs" fill="#113879" stroke="#113879" stroke-width="0.66" stroke-linejoin="round" letter-spacing="0.57">Oświata i wychowanie</text>
<rect x="824.4" y="833.0" width="20.2" height="20.8" rx="2.2" fill="#D22A37" filter="url(#ls)"/>
<text x="854.27" y="851.23" font-size="22.61" textLength="195.37" lengthAdjust="spacingAndGlyphs" fill="#113879" stroke="#113879" stroke-width="0.74" stroke-linejoin="round" letter-spacing="0.57">Transport i Łączność</text>
<rect x="824.4" y="873.4" width="20.2" height="20.8" rx="2.2" fill="#6A3E9E" filter="url(#ls)"/>
<text x="853.68" y="891.65" font-size="22.67" textLength="224.32" lengthAdjust="spacingAndGlyphs" fill="#113879" stroke="#113879" stroke-width="0.70" stroke-linejoin="round" letter-spacing="0.57">Gospodarka komunalna</text>
<rect x="824.4" y="912.3" width="20.2" height="20.8" rx="2.2" fill="#2B3A7C" filter="url(#ls)"/>
<text x="853.15" y="930.57" font-size="22.72" textLength="93.85" lengthAdjust="spacingAndGlyphs" fill="#113879" stroke="#113879" stroke-width="0.66" stroke-linejoin="round" letter-spacing="0.57">Pozostałe</text>
<rect x="1152.9" y="794.0" width="20.2" height="20.8" rx="2.2" fill="#2862B4" filter="url(#ls)"/>
<text x="1184.42" y="812.24" font-size="22.63" textLength="164.57" lengthAdjust="spacingAndGlyphs" fill="#113879" stroke="#113879" stroke-width="0.72" stroke-linejoin="round" letter-spacing="0.57">Pomoc społeczna</text>
<rect x="1152.9" y="832.6" width="20.2" height="20.8" rx="2.2" fill="#D22A37" filter="url(#ls)"/>
<text x="1183.30" y="850.77" font-size="22.43" textLength="210.90" lengthAdjust="spacingAndGlyphs" fill="#113879" stroke="#113879" stroke-width="0.86" stroke-linejoin="round" letter-spacing="0.56">Administracja publiczna</text>
<rect x="1152.9" y="873.2" width="20.2" height="20.8" rx="2.2" fill="#6BA32E" filter="url(#ls)"/>
<text x="1183.81" y="891.35" font-size="22.38" textLength="220.26" lengthAdjust="spacingAndGlyphs" fill="#113879" stroke="#113879" stroke-width="0.90" stroke-linejoin="round" letter-spacing="0.56">Kultura, Sport i Rekreacja</text>
<rect x="1152.9" y="911.8" width="20.2" height="20.8" rx="2.2" fill="#8894A6" filter="url(#ls)"/>
<text x="1183.75" y="929.98" font-size="22.45" textLength="85.86" lengthAdjust="spacingAndGlyphs" fill="#113879" stroke="#113879" stroke-width="0.85" stroke-linejoin="round" letter-spacing="0.56">Pozostałe</text>
</svg>
</body></html>
